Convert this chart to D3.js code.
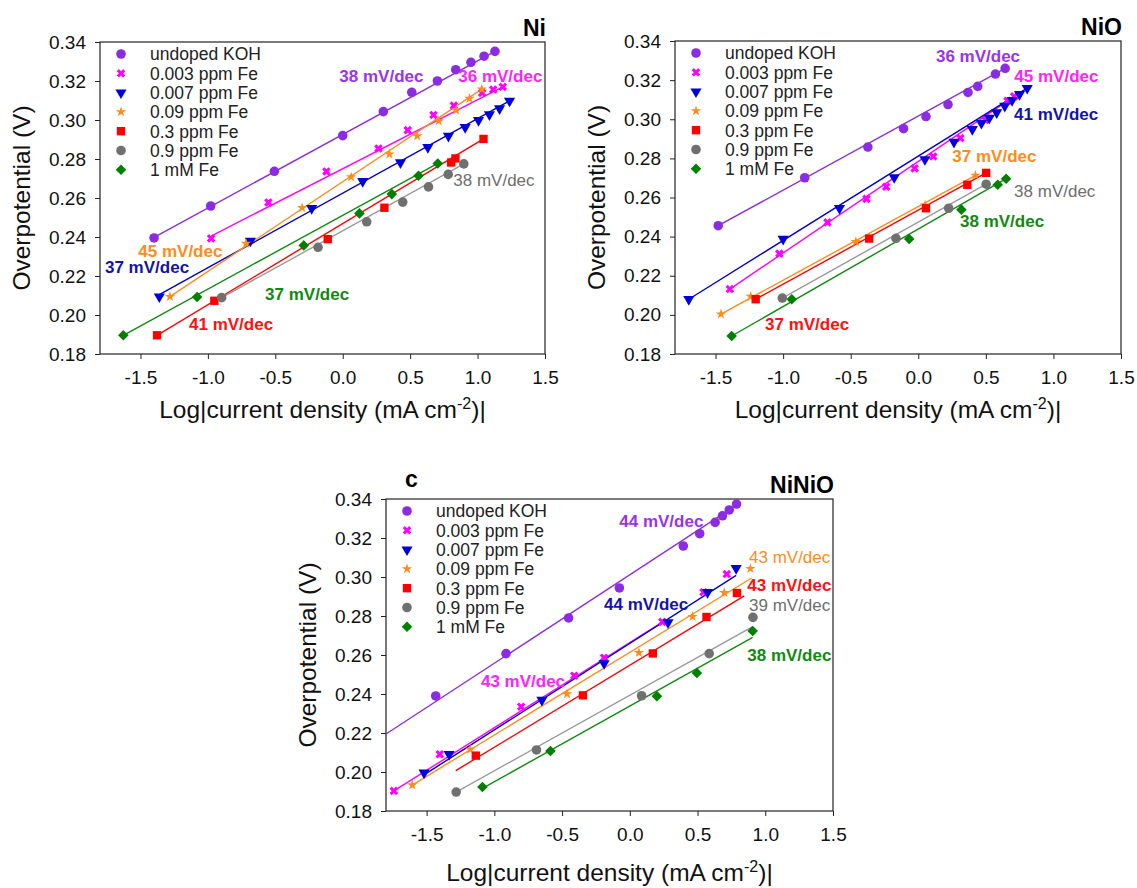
<!DOCTYPE html>
<html>
<head>
<meta charset="utf-8">
<script src="https://cdn.jsdelivr.net/npm/d3@7"></script>
<style>
  body { margin: 0; background: #fff; }
  svg { display: block; font-family: "Liberation Sans", Arial, sans-serif; }
</style>
</head>
<body>
<svg id="chart" width="1137" height="888"></svg>
<script>
// series shared by all three panels
const seriesNames = ['undoped KOH', '0.003 ppm Fe', '0.007 ppm Fe', '0.09 ppm Fe', '0.3 ppm Fe', '0.9 ppm Fe', '1 mM Fe'];
const markerColors = ['#8b2be2', '#ff00ff', '#0000dd', '#ff8c1a', '#ff0000', '#707070', '#008000'];
const lineColors = ['#8b2be2', '#ff00ff', '#0000cc', '#ff8c1a', '#ff0000', '#9a9a9a', '#108a10'];
const labelColors = ['#9933ee', '#ff22ff', '#1414a8', '#ff8c1a', '#ff1010', '#6e6e6e', '#108a10'];
const seriesShapes = ['circle', 'cross', 'triangle', 'star', 'square', 'circle', 'diamond'];

const xTicks = [-1.5, -1.0, -0.5, 0.0, 0.5, 1.0, 1.5];
const yTicks = [0.18, 0.20, 0.22, 0.24, 0.26, 0.28, 0.30, 0.32, 0.34];

// Ni panel: points per series, fit lines [x0, y0, x1, y1], slope labels [text, series, x, y, bold]
const niPoints = [
  [[-1.399, 0.2395], [-0.979, 0.2559], [-0.507, 0.2737], [0.0, 0.292], [0.301, 0.3043], [0.512, 0.3142], [0.702, 0.32], [0.838, 0.3258], [0.951, 0.3296], [1.048, 0.3327], [1.129, 0.3352]],
  [[-0.976, 0.2393], [-0.551, 0.2577], [-0.121, 0.2736], [0.265, 0.2854], [0.482, 0.2948], [0.673, 0.3026], [0.824, 0.3074], [1.034, 0.3139], [1.116, 0.3156], [1.187, 0.317]],
  [[-1.36, 0.2094], [-0.685, 0.238], [-0.23, 0.2547], [0.148, 0.2686], [0.428, 0.2782], [0.631, 0.286], [0.784, 0.2918], [0.908, 0.2963], [1.007, 0.2999], [1.088, 0.3028], [1.163, 0.3059], [1.237, 0.3098]],
  [[-1.281, 0.2094], [-0.717, 0.2367], [-0.301, 0.255], [0.062, 0.2708], [0.346, 0.2825], [0.552, 0.2918], [0.712, 0.2995], [0.841, 0.305], [0.94, 0.311], [1.031, 0.3158]],
  [[-1.377, 0.1896], [-0.952, 0.2073], [-0.111, 0.2389], [0.309, 0.255], [0.804, 0.2782], [0.836, 0.2803], [1.044, 0.2903]],
  [[-0.898, 0.2089], [-0.183, 0.2347], [0.178, 0.2478], [0.445, 0.2579], [0.636, 0.2657], [0.782, 0.2721], [0.898, 0.2775]],
  [[-1.627, 0.1896], [-1.08, 0.2092], [-0.289, 0.2357], [0.124, 0.2521], [0.364, 0.262], [0.562, 0.2714], [0.705, 0.2777]]
];
const niFits = [
  [-1.399, 0.2398, 1.129, 0.3352],
  [-0.976, 0.2405, 1.187, 0.317],
  [-1.36, 0.2105, 1.237, 0.3098],
  [-1.281, 0.2094, 1.031, 0.3158],
  [-1.377, 0.1896, 1.044, 0.2903],
  [-0.898, 0.2089, 0.898, 0.2775],
  [-1.627, 0.1896, 0.705, 0.2777]
];
const niSlopes = [
  ['38 mV/dec', 0, -0.025, 0.3227, true],
  ['36 mV/dec', 1, 0.857, 0.3227, true],
  ['45 mV/dec', 3, -1.516, 0.233, true],
  ['37 mV/dec', 2, -1.763, 0.2245, true],
  ['38 mV/dec', 5, 0.82, 0.2692, false],
  ['37 mV/dec', 6, -0.576, 0.2108, true],
  ['41 mV/dec', 4, -1.14, 0.1954, true]
];

// NiO panel
const nioPoints = [
  [[-1.48, 0.2456], [-0.84, 0.2701], [-0.373, 0.2858], [-0.109, 0.2952], [0.057, 0.3014], [0.22, 0.3075], [0.368, 0.3137], [0.44, 0.3168], [0.571, 0.3231], [0.643, 0.326]],
  [[-1.394, 0.2132], [-1.028, 0.2313], [-0.672, 0.2473], [-0.383, 0.2593], [-0.237, 0.2655], [-0.027, 0.2749], [0.111, 0.281], [0.311, 0.2904], [0.497, 0.2996], [0.66, 0.3094], [0.71, 0.3117]],
  [[-1.698, 0.208], [-1.0, 0.2388], [-0.583, 0.2545], [-0.178, 0.2703], [0.049, 0.2795], [0.264, 0.2884], [0.4, 0.2949], [0.467, 0.298], [0.526, 0.3007], [0.58, 0.3034], [0.64, 0.3068], [0.694, 0.3097], [0.749, 0.3128], [0.806, 0.3159]],
  [[-1.46, 0.2004], [-1.24, 0.2094], [-0.462, 0.2374], [0.05, 0.256], [0.423, 0.2713]],
  [[-1.203, 0.208], [-0.363, 0.239], [0.057, 0.2545], [0.363, 0.2665], [0.502, 0.2726]],
  [[-1.006, 0.2086], [-0.165, 0.2391], [0.225, 0.2545], [0.502, 0.2668]],
  [[-1.381, 0.1892], [-0.936, 0.208], [-0.067, 0.2388], [0.319, 0.2538], [0.588, 0.2665], [0.65, 0.2696]]
];
const nioFits = [
  [-1.48, 0.2456, 0.643, 0.326],
  [-1.394, 0.2132, 0.71, 0.3117],
  [-1.698, 0.208, 0.806, 0.3159],
  [-1.46, 0.2004, 0.423, 0.2713],
  [-1.203, 0.208, 0.502, 0.2726],
  [-1.006, 0.2086, 0.502, 0.2668],
  [-1.381, 0.1892, 0.65, 0.2696]
];
const nioSlopes = [
  ['36 mV/dec', 0, 0.131, 0.3323, true],
  ['45 mV/dec', 1, 0.711, 0.3223, true],
  ['41 mV/dec', 2, 0.709, 0.303, true],
  ['37 mV/dec', 3, 0.252, 0.2814, true],
  ['38 mV/dec', 5, 0.709, 0.2632, false],
  ['38 mV/dec', 6, 0.309, 0.248, true],
  ['37 mV/dec', 4, -1.134, 0.1953, true]
];

// NiNiO panel
const ninioPoints = [
  [[-1.433, 0.239], [-0.914, 0.2607], [-0.452, 0.279], [-0.077, 0.2944], [0.395, 0.3159], [0.516, 0.3222], [0.63, 0.328], [0.684, 0.3314], [0.734, 0.3344], [0.788, 0.3374]],
  [[-1.742, 0.1903], [-1.403, 0.2091], [-0.802, 0.2335], [-0.41, 0.2494], [-0.19, 0.2586], [0.24, 0.277], [0.544, 0.2922], [0.716, 0.3015]],
  [[-1.519, 0.1996], [-1.334, 0.2091], [-0.649, 0.2369], [-0.19, 0.2557], [0.282, 0.2767], [0.574, 0.2922], [0.785, 0.3045]],
  [[-1.606, 0.1933], [-1.178, 0.2116], [-0.464, 0.24], [0.067, 0.2612], [0.463, 0.2797], [0.697, 0.292], [0.89, 0.3043]],
  [[-1.137, 0.2084], [-0.346, 0.2393], [0.17, 0.2608], [0.566, 0.2795], [0.791, 0.2918]],
  [[-1.282, 0.1897], [-0.689, 0.2113], [0.087, 0.2391], [0.586, 0.2607], [0.909, 0.2793]],
  [[-1.088, 0.1923], [-0.586, 0.2108], [0.2, 0.2389], [0.495, 0.2508], [0.907, 0.2723]]
];
const ninioFits = [
  [-1.8, 0.2195, 0.79, 0.337],
  [-1.742, 0.1903, 0.25, 0.2773],
  [-1.52, 0.1985, 0.785, 0.3008],
  [-1.606, 0.1933, 0.9, 0.2995],
  [-1.285, 0.2007, 0.845, 0.2903],
  [-1.282, 0.1897, 0.907, 0.2745],
  [-1.088, 0.1916, 0.907, 0.269]
];
const ninioSlopes = [
  ['44 mV/dec', 0, -0.078, 0.3289, true],
  ['43 mV/dec', 3, 0.88, 0.3101, false],
  ['43 mV/dec', 4, 0.867, 0.2959, true],
  ['39 mV/dec', 5, 0.88, 0.2856, false],
  ['38 mV/dec', 6, 0.867, 0.26, true],
  ['44 mV/dec', 2, -0.19, 0.2862, true],
  ['43 mV/dec', 1, -1.099, 0.2467, true]
];

const panels = [
  { id: 'ni', title: 'Ni', letter: null, left: 100, top: 42, width: 445, height: 312, xTitleY: 64, points: niPoints, fits: niFits, slopes: niSlopes },
  { id: 'nio', title: 'NiO', letter: null, left: 675, top: 41, width: 446, height: 313, xTitleY: 64, points: nioPoints, fits: nioFits, slopes: nioSlopes },
  { id: 'ninio', title: 'NiNiO', letter: 'c', left: 386, top: 499, width: 447, height: 312, xTitleY: 70, points: ninioPoints, fits: ninioFits, slopes: ninioSlopes }
];

const shapeDefs = {
  circle: { type: d3.symbolCircle, size: 72, rotate: 0 },
  cross: { type: d3.symbolCross, size: 46, rotate: 45 },
  triangle: { type: d3.symbolTriangle, size: 54, rotate: 180 },
  star: { type: d3.symbolStar, size: 34, rotate: 0 },
  square: { type: d3.symbolSquare, size: 70, rotate: 0 },
  diamond: { type: d3.symbolSquare, size: 56, rotate: 45 }
};

const svg = d3.select('#chart');
svg.append('rect').attr('width', 1137).attr('height', 888).attr('fill', '#fff');

function drawMarker(g, shape, color, cx, cy) {
  const def = shapeDefs[shape];
  g.append('path')
    .attr('d', d3.symbol().type(def.type).size(def.size)())
    .attr('transform', `translate(${cx},${cy}) rotate(${def.rotate})`)
    .attr('fill', color);
}

panels.forEach((p) => {
  const x = d3.scaleLinear().domain([-1.8, 1.5]).range([p.left, p.left + p.width]);
  const y = d3.scaleLinear().domain([0.18, 0.34]).range([p.top + p.height, p.top]);
  const bottom = p.top + p.height;

  svg.append('clipPath')
    .attr('id', `clip-${p.id}`)
    .append('rect')
    .attr('x', p.left)
    .attr('y', p.top)
    .attr('width', p.width)
    .attr('height', p.height);

  // axes
  const xAxis = svg.append('g')
    .attr('transform', `translate(0,${bottom})`)
    .call(d3.axisBottom(x).tickValues(xTicks).tickSize(5).tickPadding(12).tickFormat((d) => d.toFixed(1)));
  const yAxis = svg.append('g')
    .attr('transform', `translate(${p.left},0)`)
    .call(d3.axisLeft(y).tickValues(yTicks).tickSize(5).tickPadding(9).tickFormat((d) => d.toFixed(2)));

  [xAxis, yAxis].forEach((a) => {
    a.select('.domain').remove();
    a.selectAll('text').attr('font-size', 19).attr('fill', '#111').attr('font-family', '"Liberation Sans", Arial, sans-serif');
    a.selectAll('line').attr('stroke', '#222');
  });

  svg.append('rect')
    .attr('x', p.left)
    .attr('y', p.top)
    .attr('width', p.width)
    .attr('height', p.height)
    .attr('fill', 'none')
    .attr('stroke', '#222')
    .attr('stroke-width', 1.2);

  // axis titles
  const xTitle = svg.append('text')
    .attr('x', p.left + p.width / 2)
    .attr('y', bottom + p.xTitleY)
    .attr('text-anchor', 'middle')
    .attr('font-size', 24.5)
    .attr('fill', '#111');
  xTitle.append('tspan').text('Log|current density (mA cm');
  xTitle.append('tspan').attr('font-size', 16).attr('dy', -9).text('-2');
  xTitle.append('tspan').attr('dy', 9).text(')|');

  svg.append('text')
    .attr('transform', `translate(${p.left - 70},${p.top + p.height / 2}) rotate(-90)`)
    .attr('text-anchor', 'middle')
    .attr('font-size', 24.5)
    .attr('fill', '#111')
    .text('Overpotential (V)');

  // panel title
  svg.append('text')
    .attr('x', p.left + p.width + 1)
    .attr('y', p.top - 6)
    .attr('text-anchor', 'end')
    .attr('font-size', 23)
    .attr('font-weight', 'bold')
    .attr('fill', '#000')
    .text(p.title);

  if (p.letter) {
    svg.append('text')
      .attr('x', p.left + 19)
      .attr('y', p.top - 12)
      .attr('font-size', 23)
      .attr('font-weight', 'bold')
      .attr('fill', '#000')
      .text(p.letter);
  }

  const plot = svg.append('g').attr('clip-path', `url(#clip-${p.id})`);

  // fit lines
  plot.selectAll('line.fit')
    .data(p.fits)
    .join('line')
    .attr('class', 'fit')
    .attr('x1', (d) => x(d[0]))
    .attr('y1', (d) => y(d[1]))
    .attr('x2', (d) => x(d[2]))
    .attr('y2', (d) => y(d[3]))
    .attr('stroke', (d, i) => lineColors[i])
    .attr('stroke-width', 1.4);

  // markers
  p.points.forEach((pts, i) => {
    pts.forEach((pt) => drawMarker(plot, seriesShapes[i], markerColors[i], x(pt[0]), y(pt[1])));
  });

  // slope labels
  plot.selectAll('text.slope')
    .data(p.slopes)
    .join('text')
    .attr('class', 'slope')
    .attr('x', (d) => x(d[2]))
    .attr('y', (d) => y(d[3]))
    .attr('dy', '0.36em')
    .attr('font-size', 17)
    .attr('font-weight', (d) => (d[4] ? 'bold' : 'normal'))
    .attr('fill', (d) => labelColors[d[1]])
    .text((d) => d[0]);

  // legend
  const legend = svg.append('g');
  seriesNames.forEach((name, i) => {
    const ly = p.top + 12 + i * 19.3;
    drawMarker(legend, seriesShapes[i], markerColors[i], p.left + 21, ly);
    legend.append('text')
      .attr('x', p.left + 50)
      .attr('y', ly)
      .attr('dy', '0.36em')
      .attr('font-size', 17.5)
      .attr('fill', '#222')
      .text(name);
  });
});
</script>
</body>
</html>
